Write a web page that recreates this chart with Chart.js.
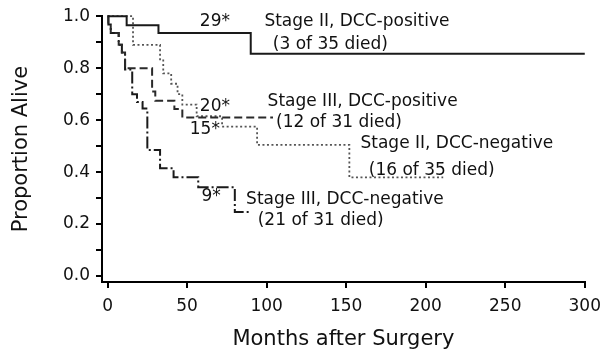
<!DOCTYPE html>
<html>
<head>
<meta charset="utf-8">
<script src="https://cdn.jsdelivr.net/npm/chart.js@4.4.1/dist/chart.umd.min.js"></script>
<style>
html,body{margin:0;padding:0;background:#fff;}
#wrap{width:609px;height:358px;}
</style>
</head>
<body>
<div id="wrap"><canvas id="c" width="609" height="358"></canvas></div>
<script>
// ---- data ----
const xTicks = [0, 50, 100, 150, 200, 250, 300];
const yTicks = [0, 0.1, 0.2, 0.3, 0.4, 0.5, 0.6, 0.7, 0.8, 0.9, 1.0];

const monthsIIpos = [0, 12, 32, 90, 300];
const survIIpos   = [1.0, 0.965, 0.935, 0.855, 0.855];

const monthsIIIpos = [0, 0.5, 2, 7, 9, 11, 28, 30, 42, 47, 104];
const survIIIpos   = [1.0, 0.968, 0.935, 0.89, 0.86, 0.80, 0.71, 0.675, 0.643, 0.61, 0.61];

const monthsIIneg = [0, 16, 33, 35, 40, 44, 47, 56, 72, 94, 152, 211];
const survIIneg   = [1.0, 0.89, 0.83, 0.78, 0.74, 0.70, 0.66, 0.615, 0.575, 0.505, 0.38, 0.38];

const monthsIIIneg = [0, 0.5, 2, 7, 9, 11, 15.5, 18.5, 22, 25, 33, 41.5, 57, 80, 90];
const survIIIneg   = [1.0, 0.968, 0.935, 0.89, 0.86, 0.795, 0.70, 0.67, 0.645, 0.485, 0.415, 0.38, 0.342, 0.246, 0.246];

const labelTexts  = ["29*", "Stage II, DCC-positive", " (3 of 35 died)",
                     "20*", "Stage III, DCC-positive", "(12 of 31 died)",
                     "15*", "Stage II, DCC-negative", "(16 of 35 died)",
                     "9*", "Stage III, DCC-negative", "(21 of 31 died)"];
const labelMonths = [58, 98.6, 100.5, 58, 100.6, 105.9, 51.7, 159, 164.2, 59, 87.1, 94.4];
const labelProps  = [0.979, 0.979, 0.89, 0.654, 0.673, 0.592, 0.565, 0.508, 0.404, 0.304, 0.294, 0.2115];

function pts(xs, ys){ return xs.map((x,i)=>({x:x, y:ys[i]})); }

const FONT = "'DejaVu Sans', sans-serif";

const labelPlugin = {
  id: 'curveLabels',
  afterDatasetsDraw(chart){
    const ctx = chart.ctx, xs = chart.scales.x, ys = chart.scales.y;
    ctx.save();
    ctx.font = "17px " + FONT;
    ctx.fillStyle = '#111';
    ctx.textAlign = 'left';
    ctx.textBaseline = 'middle';
    labelTexts.forEach((t,i)=>{
      ctx.fillText(t, xs.getPixelForValue(labelMonths[i]), ys.getPixelForValue(labelProps[i]));
    });
    ctx.restore();
  }
};

const common = {pointRadius:0, stepped:true, fill:false, clip:false, tension:0};

new Chart(document.getElementById('c'), {
  type: 'line',
  data: {
    datasets: [
      Object.assign({label:'Stage II, DCC-positive', data: pts(monthsIIpos, survIIpos),
        borderColor:'#1a1a1a', borderWidth:2}, common),
      Object.assign({label:'Stage III, DCC-positive', data: pts(monthsIIIpos, survIIIpos),
        borderColor:'#2a2a2a', borderWidth:2, borderDash:[8,4]}, common),
      Object.assign({label:'Stage II, DCC-negative', data: pts(monthsIIneg, survIIneg),
        borderColor:'#555', borderWidth:1.8, borderDash:[2,2.5]}, common),
      Object.assign({label:'Stage III, DCC-negative', data: pts(monthsIIIneg, survIIIneg),
        borderColor:'#1a1a1a', borderWidth:2, borderDash:[12,3,2,3]}, common)
    ]
  },
  options: {
    responsive: false,
    animation: false,
    layout: {padding: {left:0, right:22, top:16, bottom:0}},
    plugins: {legend:{display:false}, tooltip:{enabled:false}},
    scales: {
      x: {
        type: 'linear', min: -3.5, max: 300,
        afterBuildTicks: s => { s.ticks = xTicks.map(v=>({value:v})); },
        afterFit: s => { s.height = 76; },
        grid: {display:true, drawOnChartArea:false, drawTicks:true, tickLength:6, color:'#000', lineWidth:2},
        border: {display:true, color:'#000', width:2},
        ticks: {padding:8, color:'#111', font:{family:FONT, size:17}, maxRotation:0, callback: v => String(v)},
        title: {display:true, text:'Months after Surgery', color:'#111', font:{family:FONT, size:21}, padding:{top:0, bottom:6}}
      },
      y: {
        type: 'linear', min: -0.023, max: 1.0,
        afterBuildTicks: s => { s.ticks = yTicks.map(v=>({value:v})); },
        afterFit: s => { s.width = 102; },
        grid: {display:true, drawOnChartArea:false, drawTicks:true, tickLength:6, color:'#000', lineWidth:2},
        border: {display:true, color:'#000', width:2},
        ticks: {padding:6, color:'#111', font:{family:FONT, size:17},
          callback: v => (Math.round(v*10) % 2 === 0 ? Number(v).toFixed(1) : '')},
        title: {display:true, text:'Proportion Alive', color:'#111', font:{family:FONT, size:21}, padding:{top:9, bottom:0}}
      }
    }
  },
  plugins: [labelPlugin]
});
</script>
</body>
</html>
